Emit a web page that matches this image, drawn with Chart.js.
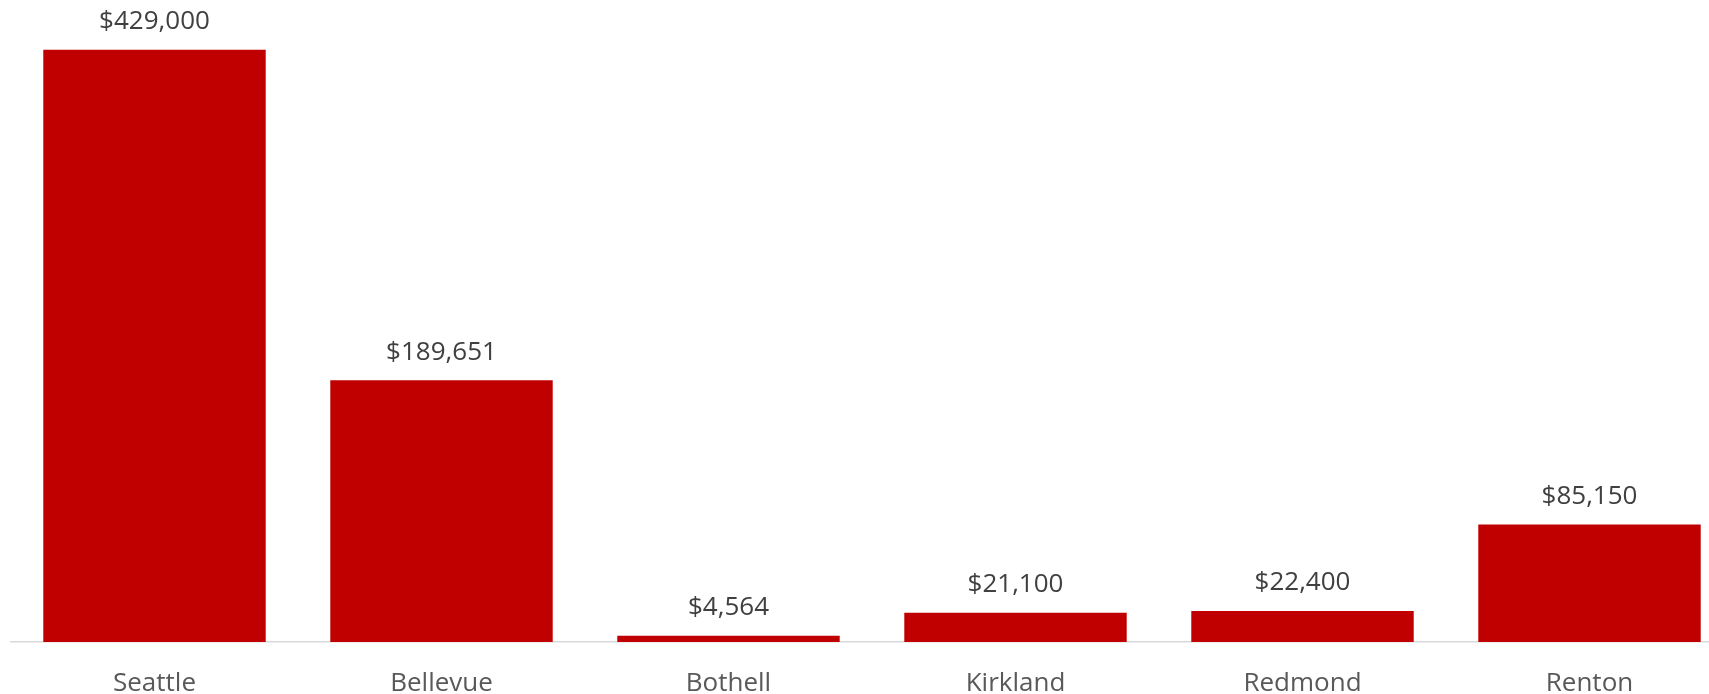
<!DOCTYPE html>
<html>
<head>
<meta charset="utf-8">
<script src="https://cdn.jsdelivr.net/npm/chart.js@4"></script>
<style>
  html, body { margin: 0; padding: 0; background: #fff; overflow: hidden; }
  #wrap { position: relative; width: 1740px; height: 694px; }
</style>
</head>
<body>
<div id="wrap"><canvas id="c"></canvas></div>
<script>
const cities = ["Seattle", "Bellevue", "Bothell", "Kirkland", "Redmond", "Renton"];
const amounts = [429000, 189651, 4564, 21100, 22400, 85150];

const barRed = "#C00000";
const labelGray = "#404040";
const axisGray = "#595959";

const fmtMoney = (v) => "$" + v.toLocaleString("en-US");

// value labels above each bar, centred ~28px over the bar top
const valueLabels = {
  id: "valueLabels",
  afterDatasetsDraw(chart) {
    const { ctx } = chart;
    const meta = chart.getDatasetMeta(0);
    ctx.save();
    ctx.font = "26px 'Open Sans'";
    ctx.fillStyle = labelGray;
    ctx.textAlign = "center";
    ctx.textBaseline = "middle";
    meta.data.forEach((bar, i) => {
      ctx.fillText(fmtMoney(amounts[i]), bar.x, bar.y - 28);
    });
    ctx.restore();
  },
};

new Chart(document.getElementById("c"), {
  type: "bar",
  data: {
    labels: cities,
    datasets: [
      {
        data: amounts,
        backgroundColor: barRed,
        borderWidth: 0,
        categoryPercentage: 0.775,
        barPercentage: 1,
      },
    ],
  },
  options: {
    responsive: true,
    maintainAspectRatio: false,
    animation: false,
    layout: { padding: { left: 11, right: 7, top: 0, bottom: 0 } },
    plugins: {
      legend: { display: false },
      tooltip: { enabled: false },
    },
    scales: {
      x: {
        grid: { display: false, drawTicks: false },
        border: { color: "#D9D9D9", width: 1.5 },
        ticks: {
          color: axisGray,
          font: { family: "'Open Sans'", size: 26 },
          padding: 26,
          maxRotation: 0,
        },
        afterFit: (scale) => { scale.height = 52; },
      },
      y: {
        display: false,
        min: 0,
        max: 465000,
      },
    },
  },
  plugins: [valueLabels],
});
</script>
</body>
</html>
